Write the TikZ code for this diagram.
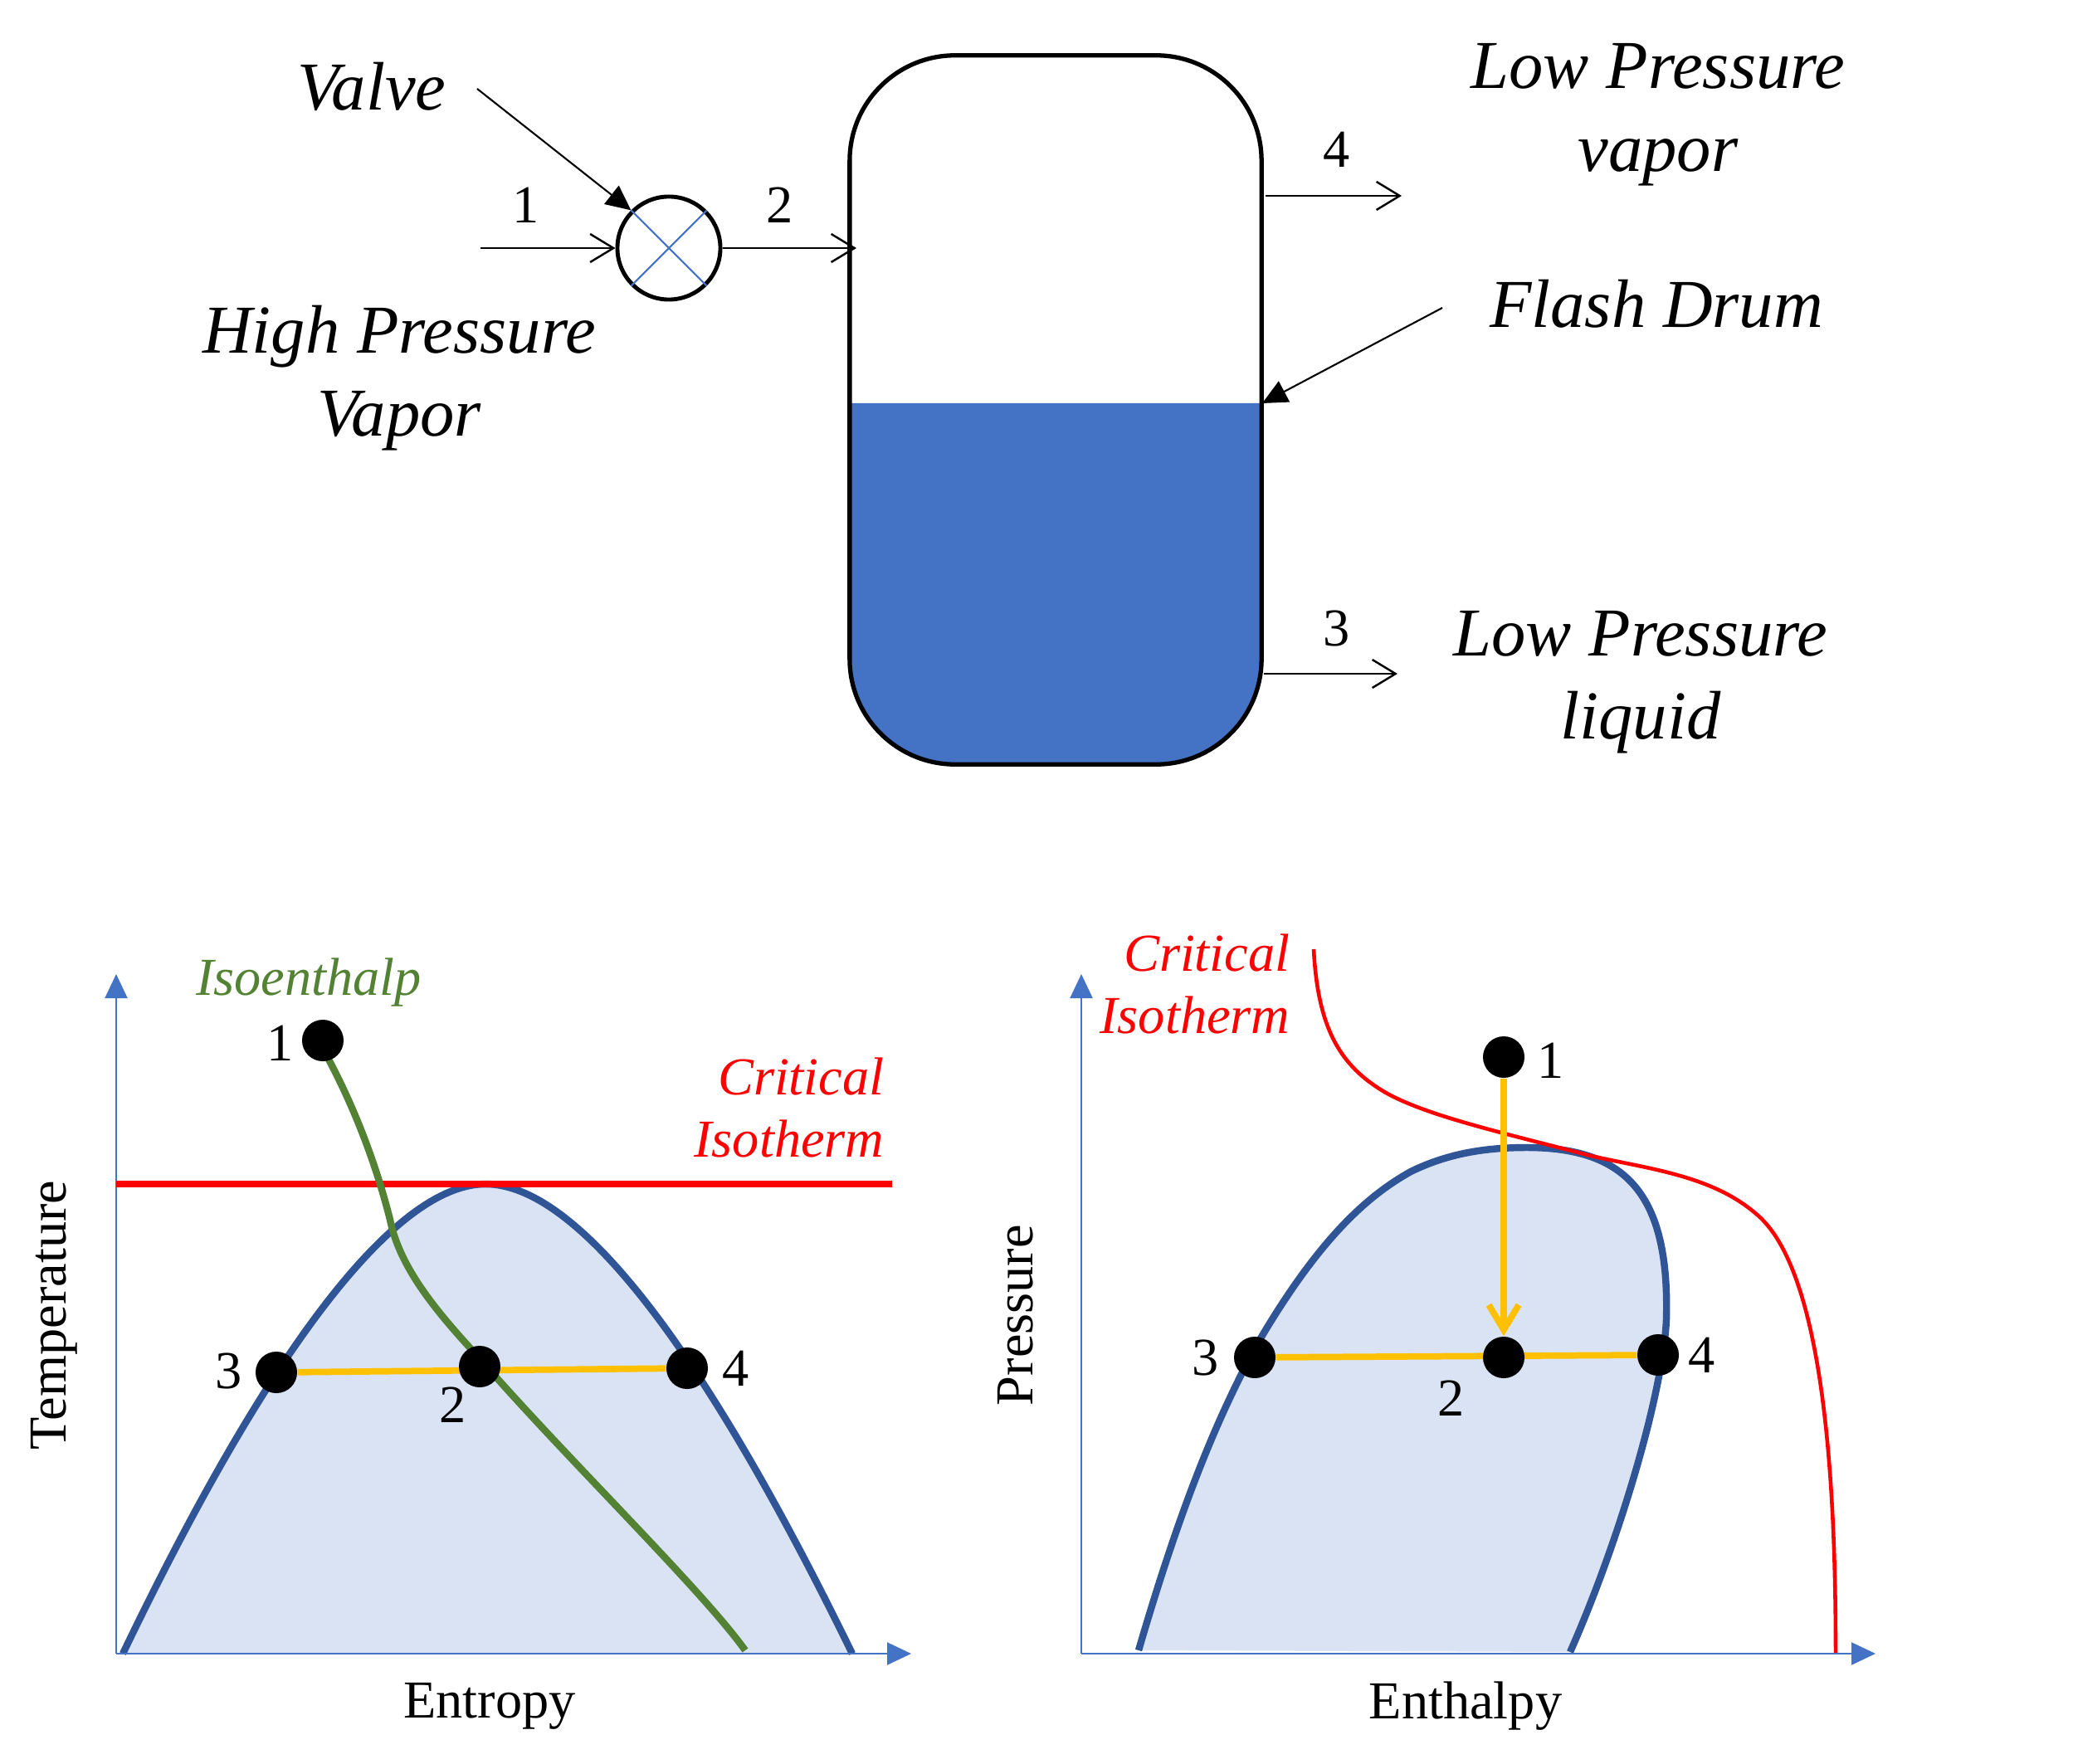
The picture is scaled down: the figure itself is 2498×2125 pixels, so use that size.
\documentclass[tikz,border=0pt]{standalone}
\usepackage{fontspec}
\setmainfont{Liberation Serif}
\usetikzlibrary{arrows.meta}
\definecolor{liquidblue}{HTML}{4472C4}
\definecolor{domefill}{HTML}{DAE3F3}
\definecolor{domeline}{HTML}{2F5597}
\definecolor{isoenthalp}{HTML}{548235}
\definecolor{flashline}{HTML}{FFC000}

\tikzset{
  bigtext/.style={font=\fontsize{23.5}{28.45}\selectfont\itshape, align=center, inner sep=0pt},
  midtext/.style={font=\fontsize{18.3}{21.5}\selectfont, align=center, inner sep=0pt},
  midital/.style={font=\fontsize{18.3}{21.5}\selectfont\itshape, align=right, inner sep=0pt},
  statedot/.style={circle, fill=black, inner sep=0pt, minimum size=0.5cm},
  flowline/.style={line width=0.7pt, -{Straight Barb[length=0.28cm,width=0.34cm]}},
  pointer/.style={line width=0.6pt, -{Triangle[length=0.3cm,width=0.28cm]}},
  axisline/.style={liquidblue, line width=0.6pt, -{Triangle[length=0.29cm,width=0.27cm]}},
  flashstep/.style={flashline, line width=2.2pt},
  domeedge/.style={domeline, line width=2.4pt}
}

\begin{document}
\begin{tikzpicture}[x=0.01cm, y=-0.01cm]
\useasboundingbox (0,0) rectangle (2498,2125);

% --- flash drum ----------------------------------------------------
\def\drumRadius{1.27cm}
\fill[liquidblue] (1024,486) -- (1520,486)
  [rounded corners=\drumRadius] -- (1520,921) -- (1024,921) [sharp corners] -- cycle;
\node[draw, line width=1.5pt, rounded corners=\drumRadius, minimum width=4.96cm, minimum height=8.54cm, inner sep=0pt] (drum) at (1272,494) {};
\node[draw, circle, line width=1.4pt, minimum size=1.24cm, inner sep=0pt] (valve) at (806,299) {};
\draw[liquidblue, line width=0.6pt] (valve.north west) -- (valve.south east);
\draw[liquidblue, line width=0.6pt] (valve.south west) -- (valve.north east);

% --- process streams -----------------------------------------------
\coordinate (inletStart) at (579,299);
\coordinate (drumInlet) at (1032,299);
\coordinate (vaporStart) at (1525,236);
\coordinate (vaporEnd) at (1689,236);
\coordinate (liquidEnd) at (1684,812);
\coordinate (valveTail) at (575,107);
\coordinate (drumTail) at (1738,371);
\coordinate (drumLevel) at (1521,486);
\draw[flowline] (inletStart) -- (valve.west);
\draw[flowline] (valve.east) -- (drumInlet);
\draw[flowline] (vaporStart) -- (vaporEnd);
\draw[flowline] (drum.east |- liquidEnd) -- (liquidEnd);
\draw[pointer] (valveTail) -- (valve.north west);
\draw[pointer] (drumTail) -- (drumLevel);

\node[midtext] (streamA) at (634,247) {1};
\node[midtext] (streamB) at (940,247) {2};
\node[midtext] (streamC) at (1611,180) {4};
\node[midtext] (streamD) at (1611,758) {3};
\node[bigtext] (valveText) at (448,104) {Valve};
\node[bigtext] (feedText) at (481,456) {High Pressure\\Vapor};
\node[bigtext] (vaporText) at (1998,138) {Low Pressure\\vapor};
\node[bigtext] (drumText) at (1996,366) {Flash Drum};
\node[bigtext] (liquidText) at (1977,822) {Low Pressure\\liquid};

% --- temperature -- entropy ----------------------------------------
\coordinate (tsOrigin) at (140,1993);
\coordinate (tsTop) at (140,1174);
\coordinate (tsRight) at (1098,1993);
\fill[domefill] (148,1993) .. controls (345,1583) and (489,1427) .. (585,1427)
  .. controls (683,1427) and (827,1583) .. (1027,1993) -- cycle;
\draw[domeedge] (148,1993) .. controls (345,1583) and (489,1427) .. (585,1427)
  .. controls (683,1427) and (827,1583) .. (1027,1993);
\draw[axisline] (tsOrigin) -- (tsTop);
\draw[axisline] (tsOrigin) -- (tsRight);
\draw[red, line width=2.2pt] (140,1427) -- (1075,1427);
\draw[isoenthalp, line width=2.4pt] (394,1273) .. controls (430,1340) and (455,1410) .. (470,1470)
  .. controls (482,1530) and (530,1585) .. (576,1635)
  .. controls (680,1755) and (845,1915) .. (898,1989);

\node[statedot] (tsA) at (389,1254) {};
\node[statedot] (tsC) at (333,1654) {};
\node[statedot] (tsD) at (828,1649) {};
\draw[flashstep] (tsC) -- (tsD);
\node[statedot] (tsB) at (578,1647) {};

\node[midtext] (tsAlabel) at (338,1257) {1};
\node[midtext] (tsBlabel) at (546,1693) {2};
\node[midtext] (tsClabel) at (276,1652) {3};
\node[midtext] (tsDlabel) at (887,1649) {4};
\node[midtext, rotate=90] (tsYlabel) at (65,1585) {Temperature};
\node[midtext] (tsXlabel) at (590,2056) {Entropy};
\node[midital, text=isoenthalp] (tsGreen) at (372,1184) {Isoenthalp};
\node[midital, text=red, anchor=east] (tsCrit) at (1066,1335) {Critical\\Isotherm};

% --- pressure -- enthalpy ------------------------------------------
\coordinate (phOrigin) at (1303,1993);
\coordinate (phTop) at (1303,1174);
\coordinate (phRight) at (2260,1993);
\fill[domefill] (1372,1989) .. controls (1430,1790) and (1475,1695) .. (1512,1625)
  .. controls (1590,1490) and (1650,1440) .. (1700,1412)
  .. controls (1745,1390) and (1790,1383) .. (1840,1383)
  .. controls (1960,1383) and (2012,1440) .. (2008,1590)
  .. controls (2004,1680) and (1950,1860) .. (1892,1991) -- cycle;
\draw[domeedge] (1372,1989) .. controls (1430,1790) and (1475,1695) .. (1512,1625)
  .. controls (1590,1490) and (1650,1440) .. (1700,1412)
  .. controls (1745,1390) and (1790,1383) .. (1840,1383)
  .. controls (1960,1383) and (2012,1440) .. (2008,1590)
  .. controls (2004,1680) and (1950,1860) .. (1892,1991);
\draw[axisline] (phOrigin) -- (phTop);
\draw[axisline] (phOrigin) -- (phRight);
\draw[red, line width=1.3pt] (1583,1144) .. controls (1588,1240) and (1615,1285) .. (1670,1317)
  .. controls (1720,1345) and (1810,1365) .. (1913,1392)
  .. controls (1980,1408) and (2060,1415) .. (2115,1462)
  .. controls (2200,1530) and (2212,1800) .. (2212,1992);

\node[statedot] (phA) at (1812,1274) {};
\node[statedot] (phC) at (1512,1636) {};
\node[statedot] (phD) at (1998,1633) {};
\draw[flashstep] (phC) -- (phD);
\node[statedot] (phB) at (1812,1636) {};
\draw[flashstep, -{Straight Barb[length=0.3cm,width=0.36cm]}] (phA) -- (phB);

\node[midtext] (phAlabel) at (1869,1278) {1};
\node[midtext] (phBlabel) at (1749,1685) {2};
\node[midtext] (phClabel) at (1453,1636) {3};
\node[midtext] (phDlabel) at (2051,1633) {4};
\node[midtext, rotate=90] (phYlabel) at (1224,1585) {Pressure};
\node[midtext] (phXlabel) at (1766,2056) {Enthalpy};
\node[midital, text=red, anchor=east] (phCrit) at (1555,1186) {Critical\\Isotherm};

\end{tikzpicture}
\end{document}
